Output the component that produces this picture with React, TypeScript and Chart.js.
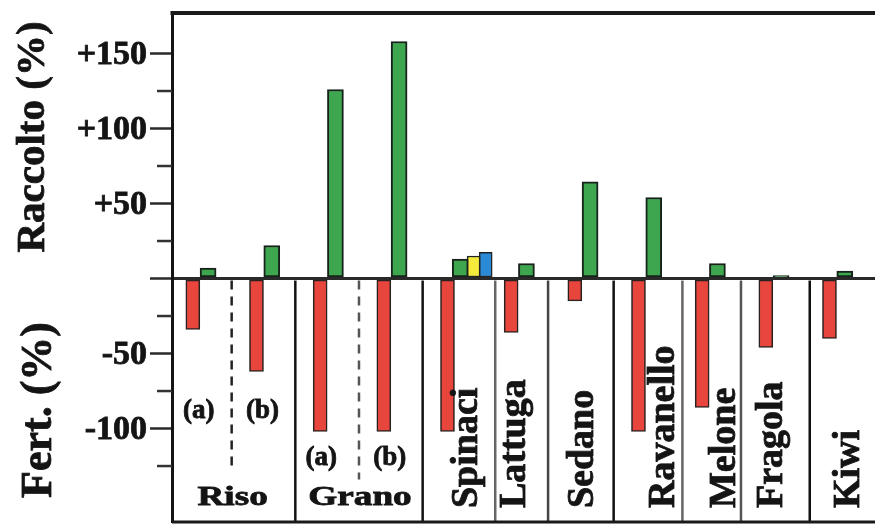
import React, { useEffect, useRef } from 'react';
import { Chart, registerables } from 'chart.js';

Chart.register(...registerables);

// Groups along the horizontal axis (Riso and Grano each have two trials)
const gruppi = ['Riso (a)', 'Riso (b)', 'Grano (a)', 'Grano (b)', 'Spinaci', 'Lattuga', 'Sedano', 'Ravanello', 'Melone', 'Fragola', 'Kiwi'];
// Fertiliser change (%) — red bars, hanging below zero
const fertilizzante = [-34, -62, -102, -102, -102, -36, -15, -102, -86, -46, -40];
// Harvest change (%) — green bars
const raccolto = [7, 22, 126, 158, 13, 10, 64.5, 54, 10, 2, 5];
// Extra Spinaci bars (yellow, blue)
const spinaciGiallo = [15];
const spinaciBlu = [17.5];

// Vertical axis ticks and their printed labels
const yTickValues = [-125, -100, -75, -50, -25, 0, 25, 50, 75, 100, 125, 150];
const yTickLabels = ['', '-100', '', '-50', '', '', '', '+50', '', '+100', '', '+150'];

// Crop names drawn under the zero line
const sottoEtichette = ['(a)', '(b)', '(a)', '(b)'];
const coltureDoppie = ['Riso', 'Grano'];
const coltureSingole = ['Spinaci', 'Lattuga', 'Sedano', 'Ravanello', 'Melone', 'Fragola', 'Kiwi'];

const SPINACI = 4;
const FONT = '"Liberation Serif", "DejaVu Serif", serif';
const INK = '#141414';

const RED = '#e8453c';
const GREEN = '#3fa650';
const YELLOW = '#f3ea3c';
const BLUE = '#2a8ad6';

// separators under the zero line (x in group units)
const SEPARATORS = [
  { at: 0.5, dash: true, end: -126, color: '#222' },
  { at: 1.5, color: '#111' },
  { at: 2.5, dash: true, end: -134, color: '#555' },
  { at: 3.5, color: '#111' },
  { at: 4.64, color: '#666' },
  { at: 5.47, color: '#444' },
  { at: 6.5, color: '#111' },
  { at: 7.58, color: '#666' },
  { at: 8.5, color: '#555' },
  { at: 9.58, color: '#111' },
];

// baseline offsets (px) of the rotated crop names from their group centre
const NAME_OFFSETS = [23, 7, 11, 29, 26, 9, 23];

function drawText(
  ctx: CanvasRenderingContext2D,
  s: string,
  x: number,
  y: number,
  size: number,
  opts: { rot?: boolean; stretch?: number; align?: CanvasTextAlign } = {}
) {
  const { rot = false, stretch = 1, align = 'center' } = opts;
  ctx.save();
  ctx.translate(x, y);
  if (rot) ctx.rotate(-Math.PI / 2);
  ctx.scale(stretch, 1);
  ctx.font = `bold ${size}px ${FONT}`;
  ctx.fillStyle = INK;
  ctx.strokeStyle = INK;
  ctx.lineWidth = 0.8;
  ctx.textAlign = align;
  ctx.textBaseline = 'alphabetic';
  ctx.fillText(s, 0, 0);
  ctx.strokeText(s, 0, 0);
  ctx.restore();
}

const decor = {
  id: 'decor',
  beforeDatasetsDraw(chart: any) {
    const { ctx, chartArea, scales } = chart;
    const x = scales.x;
    const y = scales.y;
    const y0 = y.getPixelForValue(0);
    SEPARATORS.forEach((s) => {
      const px = x.getPixelForValue(s.at);
      const yEnd = s.end !== undefined ? y.getPixelForValue(s.end) : chartArea.bottom;
      ctx.save();
      ctx.strokeStyle = s.color;
      ctx.lineWidth = 2.5;
      if (s.dash) ctx.setLineDash([9, 7]);
      ctx.beginPath();
      ctx.moveTo(px, y0 + 2);
      ctx.lineTo(px, yEnd);
      ctx.stroke();
      ctx.restore();
    });
  },
  afterDraw(chart: any) {
    const { ctx, chartArea, scales } = chart;
    const x = scales.x;
    const y = scales.y;

    // frame: heavy top edge and bottom edge
    ctx.save();
    ctx.strokeStyle = '#1a1a1a';
    ctx.lineWidth = 4;
    ctx.beginPath();
    ctx.moveTo(chartArea.left - 1.5, chartArea.top);
    ctx.lineTo(chartArea.right, chartArea.top);
    ctx.stroke();
    ctx.lineWidth = 3;
    ctx.beginPath();
    ctx.moveTo(chartArea.left, chartArea.bottom);
    ctx.lineTo(chartArea.right, chartArea.bottom);
    ctx.stroke();

    // minor tick marks
    ctx.lineWidth = 2.5;
    ctx.strokeStyle = '#333';
    yTickValues.forEach((v, i) => {
      if (yTickLabels[i] !== '' || v === 0) return;
      const py = y.getPixelForValue(v);
      ctx.beginPath();
      ctx.moveTo(chartArea.left - 15, py);
      ctx.lineTo(chartArea.left, py);
      ctx.stroke();
    });
    ctx.restore();

    // (a)/(b) trial labels
    sottoEtichette.forEach((s, i) => {
      const cx = x.getPixelForValue(i);
      const row = i < 2 ? -93 : -124;
      drawText(ctx, s, cx - (i === 2 ? 6 : 1), y.getPixelForValue(row), 27);
    });

    // Riso / Grano names under their pairs
    coltureDoppie.forEach((s, k) => {
      const cx = x.getPixelForValue(2 * k + 0.5);
      drawText(ctx, s, cx + 1, y.getPixelForValue(-151), 28, { stretch: 1.33 });
    });

    // rotated names for the other crops
    coltureSingole.forEach((s, k) => {
      const cx = x.getPixelForValue(SPINACI + k) + NAME_OFFSETS[k];
      drawText(ctx, s, cx, y.getPixelForValue(-153), 38, { rot: true, align: 'left' });
    });

    // axis titles
    drawText(ctx, 'Raccolto (%)', 44, 137, 41, { rot: true });
    drawText(ctx, 'Fert. (%)', 51, 410, 44, { rot: true });
  },
};

export default function App() {
  const canvasRef = useRef<HTMLCanvasElement | null>(null);

  useEffect(() => {
    const canvas = canvasRef.current;
    if (!canvas) return;

    const greenOffset = (i: number) => (i === SPINACI ? 0.09 : 0.13);

    const chart = new Chart(canvas, {
      type: 'bar',
      data: {
        datasets: [
          {
            label: 'Fert. (%)',
            data: fertilizzante.map((v, i) => ({ x: i - 0.11, y: v })),
            backgroundColor: RED,
            borderColor: '#2a2220',
            borderWidth: 1.6,
            borderSkipped: false,
            barThickness: 14,
          },
          {
            label: 'Raccolto (%)',
            data: raccolto.map((v, i) => ({ x: i + greenOffset(i), y: v })),
            backgroundColor: GREEN,
            borderColor: '#16221a',
            borderWidth: 2,
            borderSkipped: false,
            barThickness: 16,
          },
          {
            label: 'Spinaci (2)',
            data: spinaciGiallo.map((v) => ({ x: SPINACI + 0.3, y: v })),
            backgroundColor: YELLOW,
            borderColor: '#222',
            borderWidth: 1.5,
            borderSkipped: false,
            barThickness: 13,
          },
          {
            label: 'Spinaci (3)',
            data: spinaciBlu.map((v) => ({ x: SPINACI + 0.49, y: v })),
            backgroundColor: BLUE,
            borderColor: '#222',
            borderWidth: 1.5,
            borderSkipped: false,
            barThickness: 13,
          },
        ],
      },
      options: {
        responsive: false,
        animation: false,
        devicePixelRatio: 1,
        layout: { padding: { top: 13, bottom: 4, left: 0, right: 0 } },
        plugins: {
          legend: { display: false },
          tooltip: { enabled: false },
        },
        datasets: { bar: { grouped: false } },
        scales: {
          x: {
            type: 'linear',
            display: false,
            offset: false,
            min: -0.437,
            max: 10.605,
          },
          y: {
            type: 'linear',
            min: -162.3,
            max: 177,
            afterBuildTicks: (scale: any) => {
              scale.ticks = yTickValues.map((v) => ({ value: v }));
            },
            afterFit: (scale: any) => {
              scale.width = 172;
              scale.paddingTop = 0;
              scale.paddingBottom = 0;
            },
            border: { display: true, color: '#141414', width: 3 },
            grid: {
              drawOnChartArea: true,
              drawTicks: true,
              tickLength: 22,
              color: (c: any) => (c.tick && c.tick.value === 0 ? '#2a2a2a' : 'rgba(0,0,0,0)'),
              lineWidth: (c: any) => (c.tick && c.tick.value === 0 ? 3 : 1),
              tickColor: (c: any) => {
                const i = yTickValues.indexOf(c.tick ? c.tick.value : NaN);
                return i >= 0 && (yTickLabels[i] !== '' || yTickValues[i] === 0) ? '#2a2a2a' : 'rgba(0,0,0,0)';
              },
              tickWidth: 2.5,
            },
            ticks: {
              autoSkip: false,
              padding: 3,
              labelOffset: 2,
              color: INK,
              textStrokeColor: INK,
              textStrokeWidth: 0.8,
              font: { family: FONT, size: 34, weight: 'bold' },
              callback: (v: any) => {
                const i = yTickValues.indexOf(Number(v));
                return i >= 0 ? yTickLabels[i] : '';
              },
            },
          },
        },
      },
      plugins: [decor],
    } as any);

    return () => chart.destroy();
  }, []);

  return (
    <div style={{ position: 'absolute', left: 0, top: 0, width: 875, height: 526, background: '#fff' }}>
      <canvas ref={canvasRef} width={875} height={526} style={{ display: 'block' }} />
    </div>
  );
}
